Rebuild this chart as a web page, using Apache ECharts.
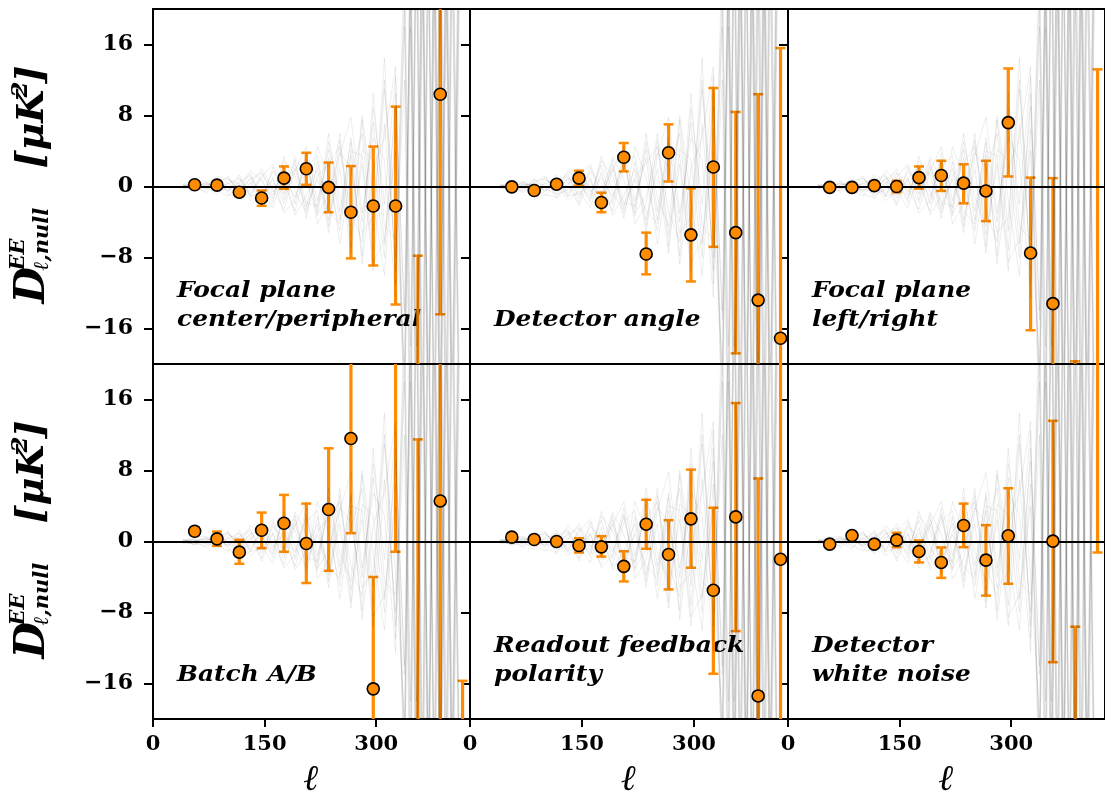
<!DOCTYPE html>
<html>
<head>
<meta charset="utf-8">
<script src="https://cdn.jsdelivr.net/npm/echarts@6/dist/echarts.min.js"></script>
<style>
  html, body { margin: 0; padding: 0; background: #fff; }
  #chart { width: 1105px; height: 800px; }
</style>
</head>
<body>
<div id="chart"></div>
<script>
// multipole bin centres shared by all six null tests
const ell = [56, 86, 116, 146, 176, 206, 236, 266, 296, 326, 356, 386, 416];

// point values (null = outside the plotted range) and error bar ends
const fpCenterVal = [0.2, 0.15, -0.64, -1.3, 0.94, 2.0, -0.1, -2.9, -2.2, -2.2, null, 10.4, null];
const fpCenterLo  = [-0.1, -0.2, -1.1, -2.18, -0.26, 0.19, -2.9, -8.1, -8.9, -13.3, -24, -14.4, null];
const fpCenterHi  = [0.5, 0.5, -0.2, -0.45, 2.26, 3.8, 2.7, 2.3, 4.5, 9.0, -7.8, 24, null];

const detAngleVal = [-0.04, -0.45, 0.26, 0.94, -1.8, 3.3, -7.6, 3.8, -5.45, 2.2, -5.2, -12.8, -17.1];
const detAngleLo  = [-0.3, -0.75, -0.1, 0.11, -2.9, 1.7, -9.9, 0.56, -10.7, -6.8, -18.8, -24, -24];
const detAngleHi  = [0.25, -0.15, 0.6, 1.77, -0.7, 4.9, -5.2, 7.0, -0.2, 11.1, 8.4, 10.4, 15.6];

const fpLeftVal = [-0.1, -0.1, 0.1, 0.0, 1.0, 1.24, 0.38, -0.5, 7.2, -7.5, -13.2, null, null];
const fpLeftLo  = [-0.4, -0.4, -0.25, -0.65, -0.23, -0.5, -1.9, -3.9, 1.13, -16.2, -24, -24, -24];
const fpLeftHi  = [0.2, 0.2, 0.45, 0.65, 2.26, 2.9, 2.5, 2.9, 13.3, 1.0, 0.94, -19.7, 13.2];

const batchVal = [1.16, 0.3, -1.2, 1.27, 2.06, -0.22, 3.6, 11.6, -16.6, null, null, 4.57, null];
const batchLo  = [0.7, -0.49, -2.51, -0.75, -1.16, -4.68, -3.3, 0.94, -24, -1.16, -24, -24, -24];
const batchHi  = [1.6, 1.12, 0.19, 3.26, 5.25, 4.27, 10.5, 24, -4.0, 24, 11.5, 24, -15.7];

const readoutVal = [0.49, 0.22, 0.0, -0.45, -0.6, -2.8, 1.95, -1.46, 2.55, -5.5, 2.77, -17.4, -2.0];
const readoutLo  = [0.2, -0.1, -0.3, -1.24, -1.7, -4.5, -0.82, -5.4, -2.96, -14.9, -10.1, -24, -24];
const readoutHi  = [0.75, 0.5, 0.3, 0.37, 0.6, -1.1, 4.7, 2.4, 8.1, 3.8, 15.6, 7.1, 24];

const noiseVal = [-0.3, 0.67, -0.3, 0.15, -1.12, -2.36, 1.8, -2.1, 0.64, null, 0.04, null, null];
const noiseLo  = [-0.55, 0.35, -0.6, -0.64, -2.36, -4.1, -0.64, -6.1, -4.76, null, -13.6, -24, -1.24];
const noiseHi  = [-0.05, 1.0, 0.0, 0.98, 0.11, -0.67, 4.27, 1.84, 6.0, null, 13.6, -9.6, 24];

// a handful of the grey simulation realisations (estimated by eye)
const simEll = [40, 56, 71, 86, 101, 116, 131, 146, 161, 176, 191, 206, 221, 236, 251, 266, 281, 296, 311, 326,
  338, 346, 354, 362, 370, 378, 386, 394, 402, 412];
const sims = [
  [0.1, 0.2, -0.3, 0.5, -0.6, 0.9, -1.2, 1.5, -1.0, 2.4, -2.0, 3.1, -2.5, 4.2, -3.8, 5.5, -4.0, 7.2, -6.5, 9.0, -14, 24, -30, 35, -28, 22, -38, 30, -26, 33],
  [-0.1, -0.3, 0.2, -0.6, 0.4, -0.8, 1.0, -1.9, 2.2, -1.5, 3.0, -3.6, 2.8, -4.5, 5.2, -6.8, 7.5, -5.0, 14.5, -11, 20, -28, 34, -40, 30, -25, 36, -22, 40, -30],
  [0.0, 0.4, 0.6, -0.2, 1.0, -0.5, 1.8, 0.6, -1.4, 2.9, 1.2, -2.6, 4.5, 1.0, -5.0, 3.5, -7.8, 8.8, -2.0, 12.5, -24, 32, -22, 38, -35, 28, -30, 42, -24, 26],
  [0.2, -0.2, -0.5, 0.8, -0.9, -1.2, 0.5, -2.2, 1.0, -3.0, -1.5, 3.8, -4.2, -2.0, 6.0, -5.5, 2.5, -9.5, 7.0, -8.0, 12, -35, 28, -30, 40, -32, 24, -36, 30, -28],
  [-0.2, 0.1, 0.3, 0.1, -0.4, 1.3, -0.9, 1.1, 2.5, -0.8, 3.3, 0.8, -3.3, 5.0, -1.2, -4.5, 8.0, -1.5, -10.0, 6.5, -26, 18, -38, 27, -22, 35, -40, 20, -32, 38],
  [0.1, -0.4, 0.0, -0.9, 0.7, 0.3, -1.6, -0.5, -2.4, 1.6, -3.2, -1.0, 2.0, -5.2, 3.5, 7.8, -3.0, 5.5, 3.0, -12.5, 28, -22, 36, -26, 32, -38, 22, -30, 36, -24],
  [0.0, 0.2, -0.7, 0.3, 1.2, -1.4, 0.2, 2.0, -0.3, -2.6, 1.8, 4.5, -1.6, 3.2, -6.5, 1.5, 6.0, -7.2, 11.0, -3.5, -20, 30, -25, 42, -30, 20, -34, 28, -22, 40],
  [-0.1, 0.0, 0.4, -0.4, -1.1, 0.6, 1.4, -1.3, 1.7, 0.4, -2.8, 2.2, 3.5, -3.8, 2.0, -7.5, 4.2, 3.0, -8.0, 10.5, -15, 24, -32, 22, -40, 30, -26, 38, -34, 22],
  [0.2, 0.3, -0.1, 0.9, -0.2, -0.9, -0.4, 0.9, -1.8, 3.4, -0.6, -3.0, 1.2, 2.6, 4.5, -2.8, -6.2, 10.5, -4.5, -6.0, 22, -18, 26, -36, 24, -26, 38, -24, 28, -36],
  [-0.2, -0.1, 0.5, -0.1, 0.3, 1.0, -1.1, -0.8, 0.8, -1.9, 2.5, -1.8, -2.2, 6.0, -2.8, 5.0, -8.8, 2.0, 5.5, 13.5, -30, 26, -18, 32, -36, 40, -22, 30, -40, 26],
  [0.1, 0.1, -0.2, 0.6, 0.9, -0.3, 0.8, 1.6, -0.6, 1.0, -1.2, 2.8, -3.0, -1.0, 3.8, 2.2, -5.2, -3.5, 12.0, -9.5, 18, -30, 40, -24, 28, -34, 30, -40, 24, -30],
  [0.0, -0.3, 0.2, 0.3, -0.5, 0.4, 1.2, -1.0, 0.3, -0.9, 2.0, -2.2, 0.8, -2.8, -4.2, 4.0, 3.5, -8.5, -6.0, 4.0, -22, 20, -30, 24, -26, 36, -28, 22, -30, 34]
];

const yTicks = [-16, -8, 0, 8, 16];
const xTicks = [0, 150, 300];

const panels = [
  { label: ['Focal plane', 'center/peripheral'], val: fpCenterVal, lo: fpCenterLo, hi: fpCenterHi },
  { label: ['Detector angle'], val: detAngleVal, lo: detAngleLo, hi: detAngleHi },
  { label: ['Focal plane', 'left/right'], val: fpLeftVal, lo: fpLeftLo, hi: fpLeftHi },
  { label: ['Batch A/B'], val: batchVal, lo: batchLo, hi: batchHi },
  { label: ['Readout feedback', 'polarity'], val: readoutVal, lo: readoutLo, hi: readoutHi },
  { label: ['Detector', 'white noise'], val: noiseVal, lo: noiseLo, hi: noiseHi }
];

const orange = '#ff8c00';
const serif = '"DejaVu Serif", serif';
const cols = [153, 470, 788];
const rows = [9, 364];
const W = 317, H = 355;

function renderBar(params, api) {
  const cs = params.coordSys;
  const top = cs.y, bot = cs.y + cs.height;
  const pLo = api.coord([api.value(0), api.value(1)]);
  const pHi = api.coord([api.value(0), api.value(2)]);
  const x = pLo[0];
  const y1 = Math.min(pLo[1], bot), y2 = Math.max(pHi[1], top);
  if (y1 <= top || y2 >= bot) return null;
  const children = [{ type: 'line', shape: { x1: x, y1: y1, x2: x, y2: y2 }, style: { stroke: orange, lineWidth: 3.2 } }];
  if (pLo[1] <= bot) children.push({ type: 'line', shape: { x1: x - 5, y1: pLo[1], x2: x + 5, y2: pLo[1] }, style: { stroke: orange, lineWidth: 2.5 } });
  if (pHi[1] >= top) children.push({ type: 'line', shape: { x1: x - 5, y1: pHi[1], x2: x + 5, y2: pHi[1] }, style: { stroke: orange, lineWidth: 2.5 } });
  return { type: 'group', children: children };
}

const minus = v => (v < 0 ? '\u2212' + Math.abs(v) : String(v));

const grids = [], xAxes = [], yAxes = [], series = [], graphics = [];

panels.forEach((p, i) => {
  const c = i % 3, r = Math.floor(i / 3);
  grids.push({ left: cols[c], top: rows[r], width: W + (c === 1 ? 1 : 0), height: H, show: true, borderColor: '#000', borderWidth: 2 });
  xAxes.push({
    gridIndex: i, type: 'value', min: 0, max: 426,
    axisLine: { show: false, onZero: false },
    axisTick: { show: r === 1, customValues: xTicks, length: 8, lineStyle: { color: '#000', width: 2 } },
    axisLabel: { show: r === 1, customValues: xTicks, margin: 15, color: '#000', fontFamily: serif, fontWeight: 'bold', fontSize: 21 },
    splitLine: { show: false },
    name: r === 1 ? 'ℓ' : '', nameLocation: 'middle', nameGap: 44,
    nameTextStyle: { color: '#000', fontFamily: serif, fontWeight: 'bold', fontStyle: 'italic', fontSize: 36 }
  });
  yAxes.push({
    gridIndex: i, type: 'value', min: -20, max: 20,
    axisLine: { show: false, onZero: false },
    axisTick: { show: true, customValues: yTicks, length: 9, lineStyle: { color: '#000', width: 2 } },
    axisLabel: { show: c === 0, customValues: yTicks, margin: 20, formatter: minus, color: '#000', fontFamily: serif, fontWeight: 'bold', fontSize: 22 },
    splitLine: { show: false }
  });

  series.push({
    type: 'custom', xAxisIndex: i, yAxisIndex: i, z: 2, silent: true,
    renderItem: renderBar,
    data: ell.map((e, k) => [e, p.lo[k], p.hi[k]]).filter(d => d[1] != null)
  });
  sims.forEach(s => {
    series.push({
      type: 'line', xAxisIndex: i, yAxisIndex: i, z: 3, silent: true, symbol: 'none',
      lineStyle: { color: '#000', width: 0.6, opacity: 0.12 },
      data: simEll.map((e, k) => [e, s[k]])
    });
  });
  series.push({
    type: 'line', xAxisIndex: i, yAxisIndex: i, z: 4, silent: true, data: [],
    markLine: { silent: true, symbol: 'none', label: { show: false }, animation: false,
      lineStyle: { color: '#000', width: 2, type: 'solid' }, data: [{ yAxis: 0 }] }
  });
  series.push({
    type: 'scatter', xAxisIndex: i, yAxisIndex: i, z: 5, silent: true, symbolSize: 12,
    itemStyle: { color: orange, borderColor: '#000', borderWidth: 1.6, opacity: 1 },
    data: ell.map((e, k) => [e, p.val[k]]).filter(d => d[1] != null)
  });

  graphics.push({
    type: 'text', x: cols[c] + 24, y: rows[r] + H - 29, scaleX: 1.13, silent: true,
    style: { text: p.label.join('\n'), font: 'italic bold 22px ' + serif, fill: '#000', lineHeight: 29, verticalAlign: 'bottom' }
  });
});

// rotated y-axis titles, one per row
rows.forEach(top => {
  const big = 'italic bold 42px ' + serif, small = 'italic bold 21px ' + serif;
  graphics.push({
    type: 'group', x: 33, y: top + H / 2, rotation: Math.PI / 2, silent: true,
    children: [
      { type: 'text', x: -117, y: 0, style: { text: 'D', font: big, fill: '#000', verticalAlign: 'middle' } },
      { type: 'text', x: -84, y: -14, style: { text: 'EE', font: small, fill: '#000', verticalAlign: 'middle' } },
      { type: 'text', x: -84, y: 10, style: { text: 'ℓ,null', font: small, fill: '#000', verticalAlign: 'middle' } },
      { type: 'text', x: 18, y: 0, style: { text: '[μK', font: 'italic bold 38px ' + serif, fill: '#000', verticalAlign: 'middle' } },
      { type: 'text', x: 89, y: -12, style: { text: '2', font: 'italic bold 23px ' + serif, fill: '#000', verticalAlign: 'middle' } },
      { type: 'text', x: 103, y: 0, style: { text: ']', font: 'italic bold 38px ' + serif, fill: '#000', verticalAlign: 'middle' } }
    ]
  });
});

var myChart = echarts.init(document.getElementById('chart'));
myChart.setOption({
  animation: false,
  backgroundColor: '#fff',
  grid: grids,
  xAxis: xAxes,
  yAxis: yAxes,
  series: series,
  graphic: graphics
});
</script>
</body>
</html>
